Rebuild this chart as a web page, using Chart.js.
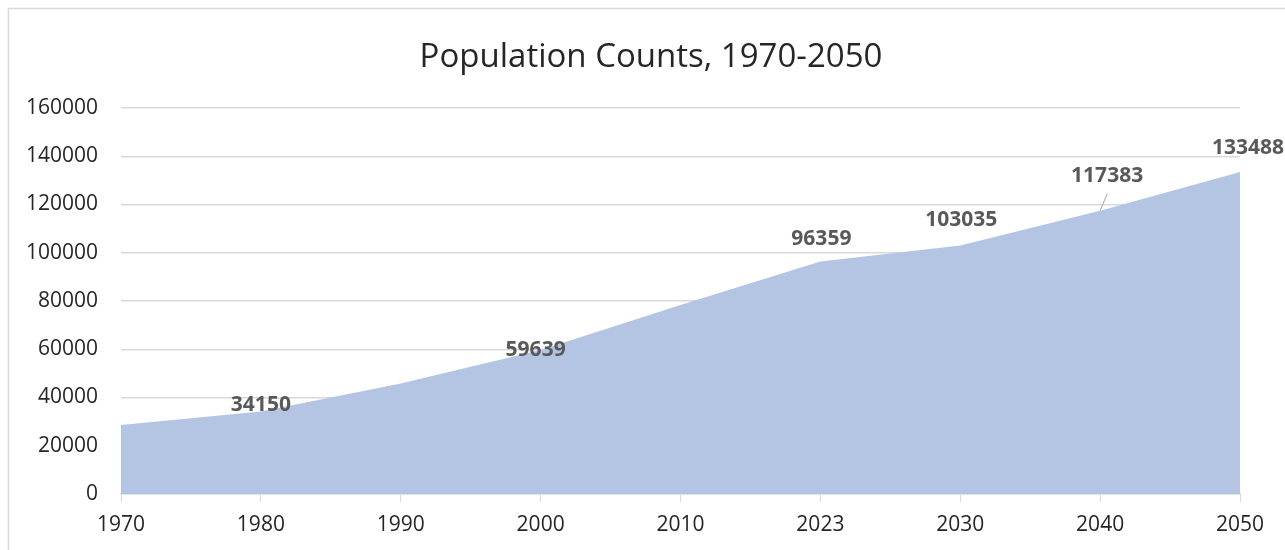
<!DOCTYPE html>
<html>
<head>
<meta charset="utf-8">
<script src="https://cdn.jsdelivr.net/npm/chart.js@4/dist/chart.umd.min.js"></script>
<style>
  html, body { margin: 0; padding: 0; background: #fff; overflow: hidden; }
  #wrap { position: absolute; left: 0; top: 0; width: 1285px; height: 550px; }
</style>
</head>
<body>
<div id="wrap"><canvas id="myChart" width="1285" height="550"></canvas></div>
<script>
// data
var years = ['1970', '1980', '1990', '2000', '2010', '2023', '2030', '2040', '2050'];
var population = [28600, 34150, 45800, 59639, 78300, 96359, 103035, 117383, 133488];
var labelled = [false, true, false, true, false, true, true, true, true];
var yTicks = [0, 20000, 40000, 60000, 80000, 100000, 120000, 140000, 160000];

var chartTitle = 'Population Counts, 1970-2050';
var fontFam = '"Open Sans", "Noto Sans", sans-serif';

// where each value label sits relative to its point (px)
var labelShift = {
    1: { dx: 0, dy: -7 },
    3: { dx: -5, dy: 0 },
    5: { dx: 1, dy: -23 },
    6: { dx: 1, dy: -25 },
    7: { dx: 7, dy: -35, leader: true },
    8: { dx: 8, dy: -24 }
};

var frameAndTitle = {
    id: 'frameAndTitle',
    beforeDraw: function (chart) {
        var c = chart.ctx;
        c.save();
        c.fillStyle = '#fff';
        c.fillRect(0, 0, chart.width, chart.height);
        c.strokeStyle = '#d9d9d9';
        c.lineWidth = 1.5;
        c.strokeRect(8.5, 8.5, 1400, 700);
        c.fillStyle = '#262626';
        c.font = '33px ' + fontFam;
        c.textAlign = 'center';
        c.textBaseline = 'alphabetic';
        c.fillText(chartTitle, 651, 67);
        c.restore();
    }
};

var valueLabels = {
    id: 'valueLabels',
    afterDatasetsDraw: function (chart) {
        var c = chart.ctx;
        var xs = chart.scales.x, ys = chart.scales.y;
        c.save();
        c.font = 'bold 21px ' + fontFam;
        c.fillStyle = '#595959';
        c.textAlign = 'center';
        c.textBaseline = 'middle';
        population.forEach(function (v, i) {
            if (!labelled[i]) return;
            var px = xs.getPixelForValue(i);
            var py = ys.getPixelForValue(v);
            var s = labelShift[i] || { dx: 0, dy: -20 };
            if (s.leader) {
                c.strokeStyle = '#a6a6a6';
                c.lineWidth = 1;
                c.beginPath();
                c.moveTo(px + s.dx, py + s.dy + 18);
                c.lineTo(px, py);
                c.stroke();
            }
            c.fillText(String(v), px + s.dx, py + s.dy);
        });
        c.restore();
    }
};

var ctx = document.getElementById('myChart').getContext('2d');

new Chart(ctx, {
    type: 'line',
    data: {
        labels: years,
        datasets: [{
            label: 'Population',
            data: population,
            fill: 'origin',
            backgroundColor: '#b4c5e3',
            borderWidth: 0,
            borderColor: 'rgba(0,0,0,0)',
            pointRadius: 0,
            tension: 0
        }]
    },
    options: {
        responsive: false,
        animation: false,
        layout: { padding: { top: 108, right: 45, left: 0, bottom: 0 } },
        plugins: {
            legend: { display: false },
            title: { display: false },
            tooltip: { enabled: false }
        },
        scales: {
            x: {
                offset: false,
                grid: {
                    drawOnChartArea: false,
                    drawTicks: true,
                    tickLength: 8,
                    color: '#d9d9d9'
                },
                border: { display: true, color: '#d9d9d9', width: 1.5 },
                ticks: {
                    color: '#262626',
                    font: { family: fontFam, size: 21 },
                    padding: 10,
                    maxRotation: 0
                },
                afterFit: function (s) { s.height = 56; }
            },
            y: {
                min: 0,
                max: 160000,
                afterBuildTicks: function (s) {
                    s.ticks = yTicks.map(function (t) { return { value: t }; });
                },
                grid: { color: '#d9d9d9', lineWidth: 1.5, drawTicks: false },
                border: { display: false },
                ticks: {
                    color: '#262626',
                    font: { family: fontFam, size: 21 },
                    padding: 23,
                    callback: function (v) { return String(v); }
                },
                afterFit: function (s) { s.width = 121; }
            }
        }
    },
    plugins: [frameAndTitle, valueLabels]
});
</script>
</body>
</html>
